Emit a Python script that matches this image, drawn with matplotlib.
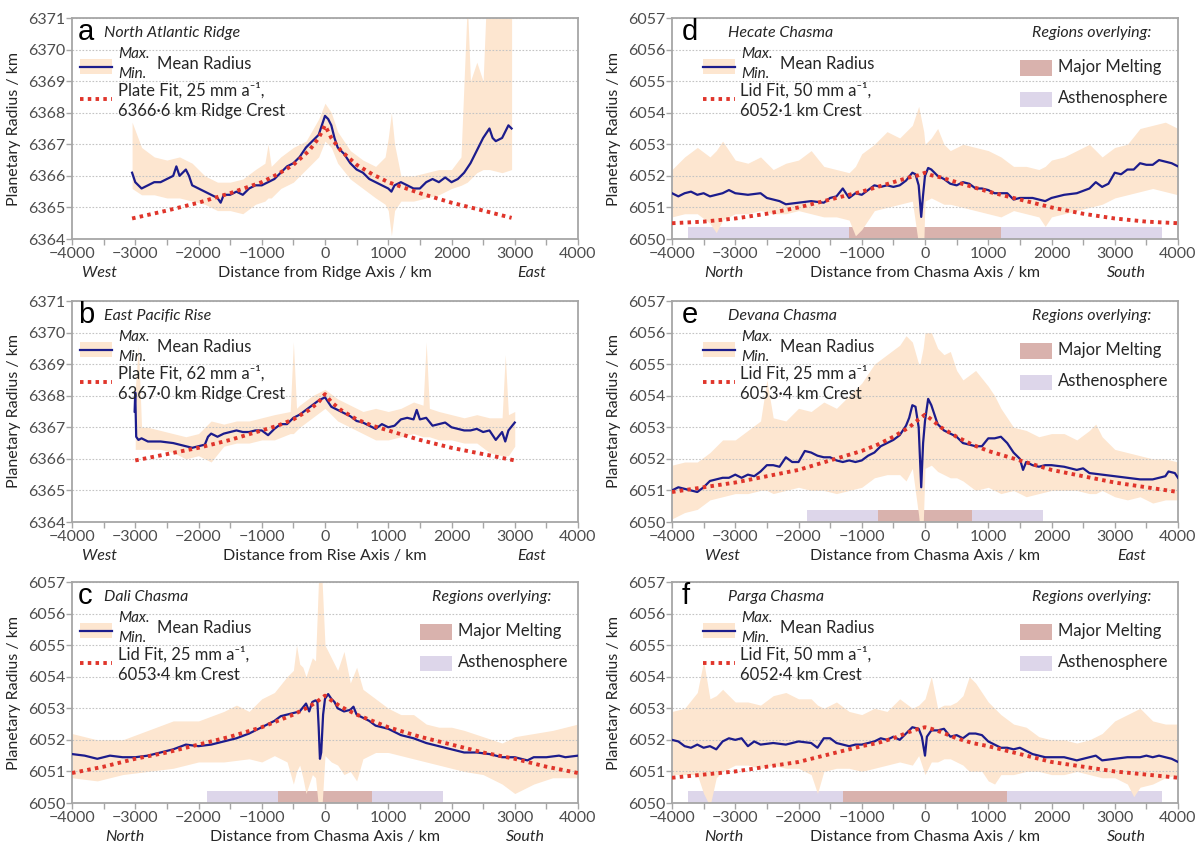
import matplotlib
matplotlib.use('Agg')
import matplotlib.pyplot as plt
from matplotlib.patches import Rectangle
from matplotlib.lines import Line2D
import matplotlib.transforms as mtransforms

plt.rcParams['font.family'] = ['Lato', 'DejaVu Sans']

# colours
ENV_COLOR = '#fde6d0'
MEAN_COLOR = '#1c1c8c'
FIT_COLOR = '#e0352b'
MELT_COLOR = '#d9b2ad'
ASTH_COLOR = '#ddd6ea'
TEXT_COLOR = '#262626'
TICK_COLOR = '#4d4d4d'
SPINE_COLOR = '#a6a6a6'

# ---------------- panel a : North Atlantic Ridge ----------------
a_mean_x = [-3050, -3000, -2900, -2800, -2700, -2600, -2500, -2400, -2350, -2300,
            -2200, -2150, -2100, -2000, -1900, -1800, -1700, -1650, -1600, -1500,
            -1400, -1300, -1200, -1100, -1000, -900, -800, -700, -600, -500,
            -400, -300, -200, -100, -50, 0, 50, 100, 150, 200,
            300, 400, 500, 600, 700, 800, 900, 1000, 1050, 1100,
            1200, 1300, 1400, 1500, 1600, 1700, 1800, 1900, 2000, 2100,
            2200, 2300, 2400, 2500, 2600, 2650, 2700, 2800, 2900, 2950]
a_mean_y = [6366.1, 6365.8, 6365.6, 6365.7, 6365.8, 6365.8, 6365.9, 6366.0, 6366.3, 6366.0,
            6366.2, 6366.0, 6365.7, 6365.6, 6365.5, 6365.4, 6365.3, 6365.15, 6365.4, 6365.4,
            6365.5, 6365.4, 6365.6, 6365.7, 6365.7, 6365.8, 6365.9, 6366.1, 6366.3, 6366.4,
            6366.6, 6366.9, 6367.1, 6367.3, 6367.6, 6367.9, 6367.8, 6367.6, 6367.2, 6366.9,
            6366.7, 6366.4, 6366.2, 6366.1, 6365.9, 6365.8, 6365.7, 6365.6, 6365.5, 6365.7,
            6365.8, 6365.7, 6365.6, 6365.6, 6365.8, 6365.9, 6365.8, 6365.95, 6365.8, 6365.9,
            6366.1, 6366.4, 6366.8, 6367.2, 6367.5, 6367.2, 6367.1, 6367.2, 6367.6, 6367.5]
a_env_x = [-3050, -2900, -2700, -2500, -2300, -2100, -1900, -1700, -1500, -1300,
           -1100, -950, -900, -850, -700, -500, -300, -100, 0, 100,
           200, 400, 600, 800, 950, 1000, 1050, 1100, 1200, 1400,
           1600, 1800, 2000, 2150, 2250, 2300, 2400, 2500, 2550, 2600,
           2800, 2950]
a_env_max = [6367.7, 6366.9, 6366.6, 6366.5, 6366.6, 6366.4, 6366.0, 6365.8, 6365.8, 6365.9,
             6366.2, 6366.4, 6367.0, 6366.3, 6366.6, 6366.9, 6367.1, 6367.8, 6368.3, 6368.0,
             6367.4, 6366.8, 6366.5, 6366.3, 6366.6, 6367.2, 6368.0, 6367.0, 6366.0, 6366.0,
             6366.1, 6366.2, 6366.2, 6366.6, 6371.5, 6369.0, 6369.6, 6369.0, 6371.5, 6371.5,
             6371.5, 6371.5]
a_env_min = [6365.6, 6365.4, 6365.4, 6365.3, 6365.3, 6365.2, 6365.1, 6364.9, 6364.9, 6364.8,
             6365.1, 6365.2, 6365.3, 6365.3, 6365.6, 6365.8, 6366.2, 6366.6, 6367.1, 6366.9,
             6366.4, 6365.9, 6365.6, 6365.3, 6365.1, 6364.9, 6364.1, 6364.9, 6365.2, 6365.2,
             6365.3, 6365.4, 6365.6, 6365.7, 6365.8, 6365.9, 6366.1, 6366.2, 6366.2, 6366.2,
             6366.1, 6366.2]
a_fit_x = [-3050, -2500, -2000, -1500, -1000, -750, -500, -250, -100, 0,
           100, 250, 500, 750, 1000, 1500, 2000, 2500, 2950]
a_fit_y = [6364.65, 6364.9, 6365.15, 6365.45, 6365.8, 6366.05, 6366.35, 6366.8, 6367.2, 6367.6,
           6367.2, 6366.8, 6366.35, 6366.05, 6365.8, 6365.45, 6365.15, 6364.9, 6364.67]

# ---------------- panel b : East Pacific Rise ----------------
b_mean_x = [-3010, -3000, -2985, -2950, -2900, -2800, -2600, -2400, -2200, -2100,
            -2000, -1900, -1850, -1800, -1700, -1600, -1500, -1400, -1300, -1200,
            -1100, -1000, -900, -800, -700, -600, -500, -400, -300, -200,
            -100, 0, 100, 200, 300, 400, 500, 600, 700, 800,
            900, 1000, 1100, 1200, 1300, 1400, 1450, 1500, 1600, 1700,
            1800, 1900, 2000, 2100, 2200, 2300, 2400, 2500, 2600, 2700,
            2800, 2850, 2900, 3000]
b_mean_y = [6367.5, 6368.1, 6366.7, 6366.6, 6366.65, 6366.55, 6366.55, 6366.5, 6366.4, 6366.35,
            6366.4, 6366.45, 6366.7, 6366.8, 6366.7, 6366.8, 6366.85, 6366.9, 6366.85, 6366.85,
            6366.9, 6366.9, 6366.75, 6366.95, 6367.1, 6367.1, 6367.3, 6367.4, 6367.55, 6367.7,
            6367.85, 6367.95, 6367.65, 6367.55, 6367.45, 6367.35, 6367.2, 6367.15, 6367.05, 6366.95,
            6367.1, 6367.0, 6367.05, 6367.25, 6367.3, 6367.25, 6367.55, 6367.25, 6367.3, 6367.05,
            6367.1, 6367.15, 6367.0, 6366.95, 6366.9, 6366.9, 6366.95, 6366.85, 6366.9, 6366.6,
            6366.85, 6366.55, 6366.9, 6367.15]
b_env_x = [-3000, -2950, -2900, -2800, -2600, -2400, -2200, -2000, -1800, -1600,
           -1400, -1200, -1000, -800, -550, -500, -450, -400, -200, 0,
           200, 400, 600, 800, 1000, 1200, 1400, 1550, 1600, 1650,
           1800, 2000, 2200, 2400, 2600, 2800, 2850, 2900, 3000]
b_env_max = [6368.2, 6369.6, 6367.0, 6367.0, 6366.9, 6366.8, 6366.7, 6366.8, 6367.2, 6367.1,
             6367.2, 6367.2, 6367.3, 6367.4, 6367.5, 6369.7, 6367.6, 6367.7, 6368.0, 6368.2,
             6367.9, 6367.7, 6367.5, 6367.6, 6367.5, 6367.6, 6367.8, 6367.7, 6369.7, 6367.6,
             6367.5, 6367.4, 6367.3, 6367.4, 6367.3, 6367.3, 6369.3, 6367.4, 6367.5]
b_env_min = [6366.3, 6366.3, 6366.3, 6366.3, 6366.3, 6366.2, 6366.0, 6366.1, 6365.9, 6366.4,
             6366.5, 6366.5, 6366.6, 6366.6, 6366.8, 6366.8, 6366.9, 6367.0, 6367.3, 6367.6,
             6367.2, 6367.0, 6366.8, 6366.6, 6366.6, 6366.7, 6366.8, 6366.7, 6366.7, 6366.7,
             6366.6, 6366.6, 6366.5, 6366.5, 6366.2, 6366.1, 6366.1, 6366.1, 6366.4]
b_fit_x = [-3000, -2500, -2000, -1500, -1000, -750, -500, -250, -100, 0,
           100, 250, 500, 750, 1000, 1500, 2000, 2500, 3000]
b_fit_y = [6365.95, 6366.15, 6366.35, 6366.6, 6366.9, 6367.05, 6367.25, 6367.55, 6367.8, 6368.05,
           6367.8, 6367.55, 6367.25, 6367.05, 6366.9, 6366.6, 6366.35, 6366.15, 6365.95]

# ---------------- panel c : Dali Chasma ----------------
c_mean_x = [-4000, -3800, -3600, -3400, -3200, -3000, -2800, -2600, -2400, -2200,
            -2000, -1800, -1600, -1400, -1200, -1000, -900, -800, -700, -600,
            -500, -400, -300, -250, -200, -150, -120, -100, -80, -60,
            -30, 0, 50, 100, 150, 200, 300, 400, 450, 500,
            600, 700, 800, 1000, 1200, 1400, 1600, 1800, 2000, 2200,
            2400, 2600, 2800, 3000, 3200, 3300, 3500, 3700, 3800, 4000]
c_mean_y = [6051.55, 6051.5, 6051.4, 6051.5, 6051.45, 6051.45, 6051.5, 6051.6, 6051.7, 6051.85,
            6051.8, 6051.85, 6051.95, 6052.05, 6052.2, 6052.4, 6052.5, 6052.6, 6052.75, 6052.8,
            6052.85, 6052.9, 6053.15, 6052.9, 6053.2, 6053.25, 6053.2, 6052.4, 6051.4, 6051.6,
            6052.8, 6053.3, 6053.45, 6053.3, 6053.2, 6053.0, 6052.9, 6052.95, 6053.05, 6052.8,
            6052.7, 6052.6, 6052.45, 6052.35, 6052.15, 6052.05, 6051.9, 6051.8, 6051.7, 6051.6,
            6051.6, 6051.55, 6051.45, 6051.45, 6051.35, 6051.45, 6051.45, 6051.5, 6051.45, 6051.5]
c_env_x = [-4000, -3600, -3200, -2800, -2400, -2000, -1600, -1400, -1200, -1000,
           -800, -600, -500, -450, -400, -350, -300, -200, -150, -100,
           -50, 0, 100, 200, 300, 400, 500, 600, 800, 1000,
           1200, 1400, 1600, 1800, 2000, 2200, 2500, 2800, 3000, 3300,
           3600, 4000]
c_env_max = [6052.2, 6052.0, 6052.0, 6052.3, 6052.6, 6052.6, 6052.9, 6053.1, 6052.9, 6053.3,
             6053.5, 6054.0, 6054.2, 6055.0, 6054.4, 6054.3, 6054.0, 6054.6, 6054.5, 6057.2,
             6057.2, 6055.0, 6054.6, 6054.2, 6054.8, 6053.8, 6054.3, 6053.6, 6053.3, 6053.0,
             6052.8, 6052.8, 6052.5, 6052.4, 6052.4, 6052.3, 6052.1, 6051.9, 6052.1, 6052.2,
             6052.3, 6052.5]
c_env_min = [6050.8, 6050.7, 6050.9, 6051.0, 6051.1, 6051.3, 6051.3, 6051.35, 6051.4, 6051.3,
             6051.5, 6051.3, 6050.6, 6051.0, 6051.2, 6050.8, 6050.3, 6050.9, 6050.8, 6049.8,
             6049.8, 6051.5, 6051.3, 6051.2, 6050.9, 6051.0, 6050.7, 6051.4, 6051.6, 6051.6,
             6051.5, 6051.4, 6051.3, 6051.2, 6051.1, 6051.0, 6050.9, 6050.6, 6050.3, 6050.6,
             6050.8, 6050.8]
chasma_fit_x = [-4000, -3500, -3000, -2500, -2000, -1500, -1000, -750, -500, -250, -100, 0,
                100, 250, 500, 750, 1000, 1500, 2000, 2500, 3000, 3500, 4000]
c_fit_y = [6050.95, 6051.15, 6051.4, 6051.6, 6051.85, 6052.1, 6052.4, 6052.6, 6052.8, 6053.05, 6053.25, 6053.4,
           6053.25, 6053.05, 6052.8, 6052.6, 6052.4, 6052.1, 6051.85, 6051.6, 6051.4, 6051.15, 6050.95]
c_asth = [(-1870, -750), (750, 1870)]
c_melt = [(-750, 750)]

# ---------------- panel d : Hecate Chasma ----------------
d_mean_x = [-4000, -3900, -3800, -3700, -3600, -3500, -3400, -3200, -3100, -3000,
            -2800, -2600, -2500, -2400, -2300, -2200, -2000, -1800, -1600, -1500,
            -1400, -1300, -1200, -1100, -1000, -900, -800, -700, -600, -500,
            -400, -300, -200, -150, -100, -60, -30, 0, 50, 100,
            200, 300, 400, 500, 600, 700, 800, 900, 1000, 1100,
            1200, 1300, 1400, 1500, 1600, 1700, 1800, 1900, 2000, 2200,
            2400, 2600, 2700, 2800, 2900, 3000, 3100, 3200, 3300, 3400,
            3500, 3600, 3700, 3800, 3900, 4000]
d_mean_y = [6051.45, 6051.35, 6051.45, 6051.5, 6051.4, 6051.45, 6051.35, 6051.45, 6051.55, 6051.45,
            6051.4, 6051.45, 6051.3, 6051.25, 6051.2, 6051.1, 6051.15, 6051.2, 6051.15, 6051.3,
            6051.35, 6051.6, 6051.3, 6051.45, 6051.4, 6051.55, 6051.7, 6051.65, 6051.7, 6051.65,
            6051.7, 6051.85, 6052.1, 6052.05, 6051.7, 6050.7, 6051.4, 6052.0, 6052.25, 6052.2,
            6052.0, 6051.9, 6051.75, 6051.7, 6051.8, 6051.75, 6051.6, 6051.6, 6051.55, 6051.45,
            6051.45, 6051.45, 6051.25, 6051.3, 6051.3, 6051.3, 6051.25, 6051.2, 6051.3, 6051.4,
            6051.45, 6051.6, 6051.8, 6051.65, 6051.75, 6052.1, 6052.05, 6052.2, 6052.2, 6052.4,
            6052.35, 6052.35, 6052.5, 6052.45, 6052.4, 6052.3]
d_env_x = [-4000, -3800, -3600, -3400, -3300, -3200, -3000, -2800, -2600, -2400,
           -2200, -2000, -1800, -1600, -1400, -1200, -1100, -1000, -800, -600,
           -400, -200, -100, -20, 0, 100, 200, 300, 400, 600,
           800, 1000, 1200, 1400, 1600, 1800, 1900, 2000, 2200, 2400,
           2600, 2800, 3000, 3200, 3400, 3600, 3800, 4000]
d_env_max = [6052.2, 6052.6, 6052.9, 6052.6, 6052.8, 6053.1, 6052.5, 6052.4, 6052.6, 6052.2,
             6052.4, 6052.5, 6052.8, 6052.3, 6052.2, 6052.1, 6052.3, 6052.7, 6053.0, 6053.4,
             6053.2, 6053.6, 6054.2, 6053.4, 6053.0, 6053.2, 6053.5, 6053.0, 6052.8, 6053.0,
             6052.9, 6052.8, 6052.6, 6052.3, 6052.3, 6052.2, 6052.3, 6052.5, 6052.6, 6052.8,
             6053.0, 6052.6, 6052.9, 6053.0, 6053.5, 6053.6, 6053.7, 6053.5]
d_env_min = [6050.7, 6050.8, 6050.8, 6050.5, 6050.2, 6050.6, 6050.8, 6050.8, 6050.9, 6050.8,
             6050.8, 6050.9, 6050.8, 6050.7, 6050.7, 6050.6, 6050.1, 6050.3, 6050.9, 6051.0,
             6051.1, 6051.2, 6049.8, 6049.8, 6051.2, 6051.3, 6051.2, 6051.1, 6051.1, 6051.0,
             6050.9, 6050.8, 6050.7, 6050.9, 6050.8, 6050.7, 6050.4, 6050.7, 6050.8, 6050.9,
             6051.0, 6051.1, 6051.3, 6051.4, 6051.5, 6051.6, 6051.5, 6051.4]
d_fit_y = [6050.5, 6050.55, 6050.65, 6050.8, 6051.0, 6051.25, 6051.5, 6051.65, 6051.8, 6051.95, 6052.02, 6052.1,
           6052.02, 6051.95, 6051.8, 6051.65, 6051.5, 6051.25, 6051.0, 6050.8, 6050.65, 6050.55, 6050.5]
d_asth = [(-3750, -1200), (1200, 3750)]
d_melt = [(-1200, 1200)]

# ---------------- panel e : Devana Chasma ----------------
e_mean_x = [-4000, -3900, -3800, -3700, -3600, -3500, -3400, -3300, -3200, -3100,
            -3000, -2900, -2800, -2700, -2600, -2500, -2400, -2300, -2200, -2100,
            -2000, -1900, -1800, -1700, -1600, -1500, -1400, -1300, -1200, -1100,
            -1000, -900, -800, -700, -600, -500, -400, -300,
            -250, -200, -150, -100, -60, -30, 0,
            50, 100, 150, 200,
            300, 400, 500, 600, 700, 800, 900, 1000, 1100, 1200, 1300, 1400, 1500,
            1550,
            1600, 1700, 1800, 1900, 2000,
            2200, 2400, 2500, 2600, 2800, 3000, 3200, 3400, 3600, 3700,
            3800, 3850, 3950, 4000]
e_mean_y = [6051.0, 6051.1, 6051.05, 6051.0, 6050.95, 6051.1, 6051.3, 6051.35, 6051.4, 6051.4,
            6051.5, 6051.4, 6051.5, 6051.45, 6051.6, 6051.8, 6051.8, 6051.75, 6052.05, 6051.9,
            6051.9, 6052.25, 6052.2, 6052.1, 6052.05, 6052.05, 6051.95, 6051.9, 6051.95, 6051.9,
            6051.95, 6052.1, 6052.2, 6052.4, 6052.5, 6052.6, 6052.75, 6053.05,
            6053.3, 6053.7, 6053.65, 6053.0, 6051.1, 6052.5, 6053.2,
            6053.9, 6053.7, 6053.4, 6053.1,
            6052.9, 6052.8, 6052.7, 6052.5, 6052.45, 6052.4, 6052.4, 6052.65, 6052.65, 6052.7, 6052.5, 6052.2, 6052.0,
            6051.65,
            6051.9, 6051.8, 6051.75, 6051.8, 6051.8,
            6051.75, 6051.65, 6051.7, 6051.55, 6051.5, 6051.45, 6051.4, 6051.35, 6051.35, 6051.4,
            6051.45, 6051.6, 6051.55, 6051.4]
e_env_x = [-4000, -3800, -3600, -3400, -3200, -3000, -2800, -2600, -2500, -2400,
           -2200, -2000, -1800, -1600, -1400, -1200, -1000, -800, -600, -400,
           -300, -200, -100, -80, -30, 0, 100, 200, 300, 400,
           500, 600, 800, 1000, 1100, 1200, 1400, 1600, 1800, 2000,
           2200, 2400, 2600, 2700, 2800, 3000, 3200, 3400, 3600, 3800,
           4000]
e_env_max = [6051.8, 6051.9, 6051.9, 6052.2, 6052.6, 6052.6, 6052.9, 6053.2, 6054.5, 6053.3,
             6053.2, 6053.6, 6053.5, 6053.8, 6053.6, 6054.0, 6054.4, 6055.0, 6055.3, 6055.6,
             6055.9, 6055.7, 6055.0, 6055.0, 6055.5, 6056.0, 6056.0, 6055.5, 6055.3, 6055.4,
             6054.8, 6054.5, 6054.8, 6054.3, 6054.0, 6053.6, 6053.0, 6052.9, 6052.7, 6052.8,
             6052.8, 6052.6, 6052.9, 6053.1, 6052.7, 6052.3, 6052.2, 6052.1, 6052.0, 6052.0,
             6051.9]
e_env_min = [6050.1, 6050.3, 6050.4, 6050.7, 6050.8, 6050.9, 6050.9, 6051.0, 6051.0, 6050.9,
             6051.0, 6051.1, 6051.0, 6051.0, 6050.9, 6051.0, 6051.1, 6051.4, 6051.5, 6051.5,
             6051.3, 6051.7, 6050.2, 6049.8, 6049.8, 6051.7, 6051.8, 6051.6, 6051.5, 6051.4,
             6051.4, 6051.3, 6051.0, 6051.1, 6051.0, 6050.9, 6051.0, 6050.8, 6050.9, 6051.0,
             6051.0, 6051.0, 6050.9, 6050.9, 6051.0, 6050.8, 6050.7, 6050.8, 6050.6, 6050.7,
             6050.7]
e_fit_y = [6050.95, 6051.1, 6051.25, 6051.45, 6051.65, 6051.95, 6052.25, 6052.45, 6052.7, 6053.0, 6053.25, 6053.4,
           6053.25, 6053.0, 6052.7, 6052.45, 6052.25, 6051.95, 6051.65, 6051.45, 6051.25, 6051.1, 6050.95]
e_asth = [(-1870, -740), (740, 1870)]
e_melt = [(-740, 740)]

# ---------------- panel f : Parga Chasma ----------------
f_mean_x = [-4000, -3900, -3800, -3700, -3600, -3500, -3400, -3300, -3200, -3100,
            -3000, -2900, -2800, -2700, -2600, -2400, -2200, -2000, -1800, -1700,
            -1600, -1500, -1400, -1300, -1200, -1100, -1000, -900, -800, -700,
            -600, -500, -400, -300, -200, -100, -50, 0, 30, 100,
            200, 300, 400, 500, 600, 700, 800, 900, 1000, 1100,
            1200, 1300, 1400, 1500, 1600, 1700, 1800, 1900, 2000, 2200,
            2300, 2400, 2600, 2700, 2800, 3000, 3200, 3400, 3500, 3600,
            3700, 3800, 3900, 4000]
f_mean_y = [6052.0, 6051.95, 6051.8, 6051.75, 6051.85, 6051.75, 6051.8, 6051.7, 6051.95, 6052.05,
            6052.0, 6052.05, 6051.8, 6051.95, 6051.85, 6051.9, 6051.85, 6051.95, 6051.9, 6051.75,
            6052.05, 6052.05, 6051.9, 6051.85, 6051.8, 6051.85, 6051.85, 6051.9, 6051.95, 6052.05,
            6052.0, 6052.1, 6052.0, 6052.2, 6052.4, 6052.35, 6052.1, 6051.5, 6052.1, 6052.3,
            6052.3, 6052.35, 6052.1, 6052.15, 6052.05, 6052.2, 6052.2, 6052.15, 6051.95, 6051.85,
            6051.75, 6051.75, 6051.7, 6051.75, 6051.65, 6051.55, 6051.5, 6051.45, 6051.45, 6051.45,
            6051.4, 6051.35, 6051.45, 6051.5, 6051.35, 6051.4, 6051.45, 6051.45, 6051.5, 6051.45,
            6051.5, 6051.45, 6051.4, 6051.3]
f_env_x = [-4000, -3800, -3600, -3500, -3400, -3300, -3200, -3000, -2800, -2600,
           -2400, -2200, -2000, -1800, -1700, -1600, -1400, -1200, -1000, -800,
           -600, -400, -200, -100, 0, 100, 200, 300, 400, 500,
           600, 700, 800, 900, 1000, 1100, 1200, 1400, 1600, 1800,
           2000, 2200, 2400, 2600, 2800, 3000, 3200, 3300, 3400, 3600,
           3800, 4000]
f_env_max = [6052.9, 6053.0, 6053.5, 6054.5, 6053.3, 6053.4, 6053.6, 6053.2, 6053.2, 6053.1,
             6053.4, 6053.5, 6053.3, 6053.3, 6053.1, 6053.0, 6053.2, 6052.9, 6052.8, 6053.0,
             6052.9, 6053.3, 6053.0, 6053.1, 6053.3, 6054.0, 6053.0, 6053.1, 6053.1, 6053.2,
             6053.4, 6054.0, 6053.8, 6053.5, 6053.2, 6053.0, 6052.8, 6052.5, 6052.4, 6052.1,
             6052.0, 6052.0, 6051.9, 6052.0, 6052.2, 6052.6, 6052.8, 6052.9, 6053.0, 6052.6,
             6052.5, 6052.5]
f_env_min = [6050.9, 6050.9, 6050.9, 6050.3, 6049.9, 6050.8, 6051.0, 6051.2, 6051.2, 6051.1,
             6051.2, 6051.1, 6051.1, 6050.9, 6050.3, 6051.0, 6051.1, 6051.1, 6051.0, 6051.1,
             6051.2, 6051.3, 6051.2, 6051.5, 6050.9, 6051.3, 6051.3, 6051.4, 6051.4, 6051.3,
             6051.2, 6051.0, 6051.0, 6051.0, 6050.7, 6050.6, 6050.9, 6050.9, 6051.0, 6051.0,
             6050.9, 6050.9, 6051.0, 6050.9, 6050.8, 6050.8, 6050.6, 6050.2, 6050.5, 6050.6,
             6050.8, 6050.9]
f_fit_y = [6050.8, 6050.9, 6051.0, 6051.15, 6051.3, 6051.55, 6051.8, 6051.9, 6052.05, 6052.25, 6052.35, 6052.4,
           6052.35, 6052.25, 6052.05, 6051.9, 6051.8, 6051.55, 6051.3, 6051.15, 6051.0, 6050.9, 6050.8]
f_asth = [(-3750, -1300), (1300, 3750)]
f_melt = [(-1300, 1300)]

ridge_ylim = (6364, 6371)
chasma_ylim = (6050, 6057)
region_bar_height = 0.38


def draw_panel(ax, letter, title, mean_x, mean_y, env_x, env_max, env_min,
               fit_x, fit_y, fit_lines, ylim, side_labels, side_x, xlabel,
               asth=None, melt=None, right=False):
    assert len(mean_x) == len(mean_y), letter
    assert len(env_x) == len(env_max) == len(env_min), letter
    assert len(fit_x) == len(fit_y), letter

    # regions overlying bars along the bottom
    if asth is not None:
        for x0, x1 in asth:
            ax.bar(x0, region_bar_height, width=x1 - x0, bottom=ylim[0], align='edge',
                   color=ASTH_COLOR, linewidth=0, zorder=0.8)
        for x0, x1 in melt:
            ax.bar(x0, region_bar_height, width=x1 - x0, bottom=ylim[0], align='edge',
                   color=MELT_COLOR, linewidth=0, zorder=0.8)

    ax.fill_between(env_x, env_min, env_max, color=ENV_COLOR, linewidth=0, zorder=1)
    ax.plot(mean_x, mean_y, color=MEAN_COLOR, lw=1.6, zorder=3)
    ax.plot(fit_x, fit_y, color=FIT_COLOR, lw=2.8, linestyle=(0, (0.9, 1.1)), zorder=4)

    ax.set_xlim(-4000, 4000)
    ax.set_ylim(*ylim)
    ax.set_xticks(range(-4000, 4001, 1000))
    ax.set_xticks(range(-3500, 4000, 1000), minor=True)
    ax.set_yticks(range(ylim[0], ylim[1] + 1))
    ax.set_axisbelow('line')
    ax.grid(axis='y', linestyle=(0, (1.5, 1.5)), color='#c4c4c4', lw=0.8)
    for sp in ax.spines.values():
        sp.set_color(SPINE_COLOR)
        sp.set_linewidth(1.3)
    ax.tick_params(axis='both', which='both', colors=SPINE_COLOR, labelcolor=TICK_COLOR,
                   labelsize=11.5, length=4, width=1)
    ax.tick_params(axis='x', which='minor', length=4)
    ax.tick_params(axis='x', pad=2)
    ax.tick_params(axis='y', pad=1)
    ax.set_ylabel('Planetary Radius / km', fontsize=11.5, color=TEXT_COLOR, labelpad=5)

    # labels below the axis
    trans = mtransforms.blended_transform_factory(ax.transData, ax.transAxes)
    for sx, s, st in ((side_x[0], side_labels[0], 'italic'),
                      (side_x[1], side_labels[1], 'italic'),
                      (0, xlabel, 'normal')):
        ax.text(sx, -0.152, s, transform=trans, ha='center', va='center',
                fontsize=11.5, style=st, color=TEXT_COLOR)

    # legend block (drawn by hand in axes fractions)
    off = 0.045 if right else 0.0
    ax.text(0.012 + (0.008 if right else 0.0), 0.935, letter, transform=ax.transAxes,
            fontsize=21, family=['Liberation Sans', 'DejaVu Sans'], va='center', ha='left',
            color='black')
    ax.text(0.11 if right else 0.064, 0.93, title, transform=ax.transAxes, fontsize=11.5,
            style='italic', va='center', ha='left', color=TEXT_COLOR)
    ax.add_patch(Rectangle((0.016 + off, 0.745), 0.064, 0.07, transform=ax.transAxes,
                           facecolor=ENV_COLOR, edgecolor='none', zorder=5))
    ax.add_line(Line2D([0.016 + off, 0.08 + off], [0.78, 0.78], transform=ax.transAxes,
                       color=MEAN_COLOR, lw=1.6, zorder=6))
    ax.text(0.092 + off, 0.835, 'Max.', transform=ax.transAxes, fontsize=11,
            style='italic', va='center', ha='left', color=TEXT_COLOR)
    ax.text(0.092 + off, 0.748, 'Min.', transform=ax.transAxes, fontsize=11,
            style='italic', va='center', ha='left', color=TEXT_COLOR)
    ax.text(0.168 + off, 0.79, 'Mean Radius', transform=ax.transAxes, fontsize=12,
            va='center', ha='left', color=TEXT_COLOR)
    ax.add_line(Line2D([0.016 + off, 0.08 + off], [0.632, 0.632], transform=ax.transAxes,
                       color=FIT_COLOR, lw=2.8, linestyle=(0, (0.9, 1.1)), zorder=6))
    ax.text(0.09 + off, 0.672, fit_lines[0], transform=ax.transAxes, fontsize=12,
            va='center', ha='left', color=TEXT_COLOR)
    ax.text(0.09 + off, 0.58, fit_lines[1], transform=ax.transAxes, fontsize=12,
            va='center', ha='left', color=TEXT_COLOR)

    if asth is not None:
        ax.text(0.948, 0.93, 'Regions overlying:', transform=ax.transAxes, fontsize=11.5,
                style='italic', va='center', ha='right', color=TEXT_COLOR)
        ax.add_patch(Rectangle((0.688, 0.738), 0.063, 0.07, transform=ax.transAxes,
                               facecolor=MELT_COLOR, edgecolor='none', zorder=5))
        ax.text(0.763, 0.78, 'Major Melting', transform=ax.transAxes, fontsize=12,
                va='center', ha='left', color=TEXT_COLOR)
        ax.add_patch(Rectangle((0.688, 0.597), 0.063, 0.07, transform=ax.transAxes,
                               facecolor=ASTH_COLOR, edgecolor='none', zorder=5))
        ax.text(0.763, 0.64, 'Asthenosphere', transform=ax.transAxes, fontsize=12,
                va='center', ha='left', color=TEXT_COLOR)


fig = plt.figure(figsize=(11.97, 8.47), dpi=100)
W, H = 1197.0, 847.0
col_left = [72 / W, 672 / W]
ax_w = 506 / W
row_bottom = [1 - 239 / H, 1 - 522 / H, 1 - 803 / H]
ax_h = 221 / H

ax_a = fig.add_axes([col_left[0], row_bottom[0], ax_w, ax_h])
ax_b = fig.add_axes([col_left[0], row_bottom[1], ax_w, ax_h])
ax_c = fig.add_axes([col_left[0], row_bottom[2], ax_w, ax_h])
ax_d = fig.add_axes([col_left[1], row_bottom[0], ax_w, ax_h])
ax_e = fig.add_axes([col_left[1], row_bottom[1], ax_w, ax_h])
ax_f = fig.add_axes([col_left[1], row_bottom[2], ax_w, ax_h])

draw_panel(ax_a, 'a', 'North Atlantic Ridge', a_mean_x, a_mean_y, a_env_x, a_env_max, a_env_min,
           a_fit_x, a_fit_y, ['Plate Fit, 25 mm a\u207b\u00b9,', '6366\u00b76 km Ridge Crest'],
           ridge_ylim, ('West', 'East'), (-3570, 3260), 'Distance from Ridge Axis / km')
draw_panel(ax_b, 'b', 'East Pacific Rise', b_mean_x, b_mean_y, b_env_x, b_env_max, b_env_min,
           b_fit_x, b_fit_y, ['Plate Fit, 62 mm a\u207b\u00b9,', '6367\u00b70 km Ridge Crest'],
           ridge_ylim, ('West', 'East'), (-3570, 3260), 'Distance from Rise Axis / km')
draw_panel(ax_c, 'c', 'Dali Chasma', c_mean_x, c_mean_y, c_env_x, c_env_max, c_env_min,
           chasma_fit_x, c_fit_y, ['Lid Fit, 25 mm a\u207b\u00b9,', '6053\u00b74 km Crest'],
           chasma_ylim, ('North', 'South'), (-3170, 3170), 'Distance from Chasma Axis / km',
           asth=c_asth, melt=c_melt)
draw_panel(ax_d, 'd', 'Hecate Chasma', d_mean_x, d_mean_y, d_env_x, d_env_max, d_env_min,
           chasma_fit_x, d_fit_y, ['Lid Fit, 50 mm a\u207b\u00b9,', '6052\u00b71 km Crest'],
           chasma_ylim, ('North', 'South'), (-3180, 3180), 'Distance from Chasma Axis / km',
           asth=d_asth, melt=d_melt, right=True)
draw_panel(ax_e, 'e', 'Devana Chasma', e_mean_x, e_mean_y, e_env_x, e_env_max, e_env_min,
           chasma_fit_x, e_fit_y, ['Lid Fit, 25 mm a\u207b\u00b9,', '6053\u00b74 km Crest'],
           chasma_ylim, ('West', 'East'), (-3210, 3270), 'Distance from Chasma Axis / km',
           asth=e_asth, melt=e_melt, right=True)
draw_panel(ax_f, 'f', 'Parga Chasma', f_mean_x, f_mean_y, f_env_x, f_env_max, f_env_min,
           chasma_fit_x, f_fit_y, ['Lid Fit, 50 mm a\u207b\u00b9,', '6052\u00b74 km Crest'],
           chasma_ylim, ('North', 'South'), (-3180, 3180), 'Distance from Chasma Axis / km',
           asth=f_asth, melt=f_melt, right=True)

fig.savefig('out.png', dpi=100, facecolor='white')
